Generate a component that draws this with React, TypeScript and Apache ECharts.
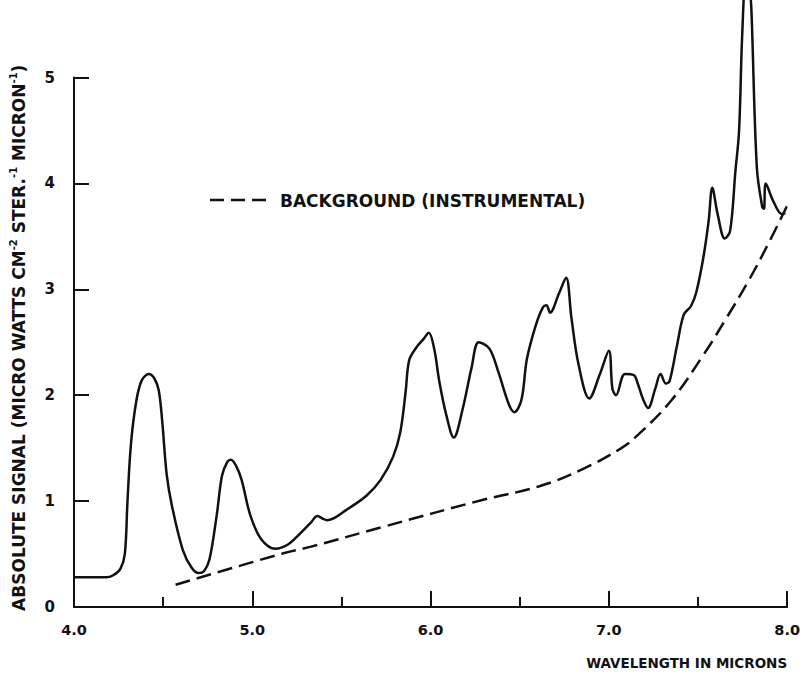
import React, { useEffect, useRef } from "react";
import * as echarts from "echarts";

// Measured spectrum (wavelength in microns, absolute signal)
const signalWavelength = [
  4.0, 4.1, 4.18, 4.22, 4.26, 4.285, 4.3, 4.32, 4.35, 4.38, 4.42, 4.45, 4.475, 4.495, 4.52, 4.55, 4.61, 4.66, 4.7,
  4.73, 4.76, 4.8, 4.83, 4.86, 4.88, 4.91, 4.94, 4.99, 5.05, 5.13, 5.2, 5.26, 5.33, 5.365, 5.4, 5.42,
  5.53, 5.64, 5.72, 5.79, 5.83, 5.86, 5.88, 5.92, 5.96, 5.99, 6.02, 6.05, 6.09, 6.13, 6.18, 6.23, 6.27,
  6.33, 6.38, 6.44, 6.47, 6.51, 6.54, 6.59, 6.63, 6.65, 6.67, 6.72, 6.76, 6.79, 6.83, 6.89, 6.95, 7.0,
  7.02, 7.04, 7.09, 7.14, 7.16, 7.19, 7.22, 7.26, 7.29, 7.32, 7.34, 7.38, 7.42, 7.46, 7.49, 7.53, 7.56,
  7.58, 7.61, 7.65, 7.68, 7.71, 7.73, 7.745, 7.76, 7.775, 7.79, 7.8, 7.83, 7.86, 7.87, 7.88, 7.92, 7.97,
  7.99,
];
const signalValues = [
  0.28, 0.28, 0.28, 0.3, 0.36, 0.5, 1.0, 1.55, 1.95, 2.14, 2.2, 2.16, 2.05, 1.75, 1.25, 0.95, 0.54, 0.37, 0.32,
  0.34, 0.45, 0.86, 1.24, 1.37, 1.39, 1.33, 1.2, 0.86, 0.64, 0.55, 0.59, 0.68, 0.8, 0.86, 0.83, 0.82,
  0.92, 1.05, 1.2, 1.42, 1.65, 2.03, 2.33, 2.45, 2.53, 2.59, 2.44, 2.12, 1.8, 1.6, 1.87, 2.26, 2.5,
  2.44, 2.22, 1.91, 1.84, 1.96, 2.34, 2.66, 2.83, 2.85, 2.78, 2.96, 3.11, 2.73, 2.29, 1.97, 2.2, 2.42,
  2.06, 2.0, 2.2, 2.19, 2.12, 1.97, 1.88, 2.06, 2.2, 2.11, 2.13, 2.45, 2.76, 2.84, 2.97, 3.3, 3.65,
  3.96, 3.71, 3.48, 3.55, 4.12, 4.49, 5.28, 5.9, 6.5, 5.9, 5.62, 4.15, 3.78, 3.76, 4.0, 3.84, 3.71,
  3.72,
];

// Instrumental background (dashed)
const backgroundWavelength = [4.57, 5.18, 5.33, 5.74, 6.29, 6.61, 6.85, 7.07, 7.16, 7.35, 7.53, 7.66, 7.79, 7.9, 8.0];
const backgroundValues = [0.21, 0.51, 0.57, 0.76, 1.01, 1.14, 1.3, 1.5, 1.62, 1.95, 2.38, 2.73, 3.1, 3.45, 3.79];

const xTicks = [4, 5, 6, 7, 8];
const yTicks = [0, 1, 2, 3, 4, 5];

const SERIES_SIGNAL = "ABSOLUTE SIGNAL";
const SERIES_BG = "BACKGROUND (INSTRUMENTAL)";
const FONT = "DejaVu Sans";
const INK = "#111111";

export default function App() {
  const ref = useRef<HTMLDivElement>(null);

  useEffect(() => {
    if (!ref.current) return;
    const chart = echarts.init(ref.current, null, { renderer: "svg" });
    const signal = signalWavelength.map((x, i) => [x, signalValues[i]]);
    const background = backgroundWavelength.map((x, i) => [x, backgroundValues[i]]);

    chart.setOption({
      animation: false,
      backgroundColor: "#ffffff",
      grid: { left: 71, right: 13, top: 77.5, bottom: 67, containLabel: false },
      graphic: [
        {
          type: "line",
          shape: { x1: 210, y1: 200, x2: 266, y2: 200 },
          style: { stroke: INK, lineWidth: 2.5, lineDash: [14, 7] },
        },
        {
          type: "text",
          x: 280,
          y: 201,
          style: {
            text: SERIES_BG,
            fontFamily: FONT,
            fontWeight: "bold",
            fontSize: 17,
            fill: INK,
            verticalAlign: "middle",
            align: "left",
          },
        },
      ],
      xAxis: {
        type: "value",
        min: xTicks[0],
        max: xTicks[xTicks.length - 1],
        interval: 1,
        name: "WAVELENGTH IN MICRONS",
        nameLocation: "end",
        nameGap: 0,
        nameTextStyle: {
          fontFamily: FONT,
          fontWeight: "bold",
          fontSize: 13.5,
          color: INK,
          align: "right",
          verticalAlign: "top",
          padding: [49, 0, 0, 0],
        },
        axisLine: { show: true, lineStyle: { color: INK, width: 2 } },
        axisTick: { show: true, inside: true, length: 16, lineStyle: { color: INK, width: 2 } },
        minorTick: { show: true, splitNumber: 2, length: 10, lineStyle: { color: INK, width: 2 } },
        axisLabel: {
          margin: 15,
          fontFamily: FONT,
          fontWeight: "bold",
          fontSize: 14.5,
          color: INK,
          formatter: (v: number) => v.toFixed(1),
        },
        splitLine: { show: false },
      },
      yAxis: {
        type: "value",
        min: yTicks[0],
        max: yTicks[yTicks.length - 1],
        interval: 1,
        name:
          "{a|ABSOLUTE SIGNAL (MICRO WATTS CM}{s|-2}{a| STER.}{s|-1}{a| MICRON}{s|-1}{a|)}",
        nameLocation: "middle",
        nameRotate: 90,
        nameGap: 44,
        nameTextStyle: {
          padding: [0, 0, 0, 9],
          rich: {
            a: { fontFamily: FONT, fontWeight: "bold", fontSize: 17, color: INK, lineHeight: 22 },
            s: {
              fontFamily: FONT,
              fontWeight: "bold",
              fontSize: 10,
              color: INK,
              lineHeight: 22,
              verticalAlign: "top",
            },
          },
        },
        axisLine: { show: true, lineStyle: { color: INK, width: 2 } },
        axisTick: { show: true, inside: true, length: 15, lineStyle: { color: INK, width: 2 } },
        axisLabel: { margin: 19, fontFamily: FONT, fontWeight: "bold", fontSize: 15, color: INK },
        splitLine: { show: false },
      },
      series: [
        {
          name: SERIES_SIGNAL,
          type: "line",
          data: signal,
          showSymbol: false,
          symbol: "none",
          smooth: 0.35,
          clip: false,
          lineStyle: { color: INK, width: 2.5 },
          itemStyle: { color: INK },
        },
        {
          name: SERIES_BG,
          type: "line",
          data: background,
          showSymbol: false,
          symbol: "none",
          smooth: 0.4,
          clip: false,
          lineStyle: { color: INK, width: 2.5, type: [15, 7] },
          itemStyle: { color: INK },
        },
      ],
    });
    return () => chart.dispose();
  }, []);

  return (
    <div
      ref={ref}
      style={{ position: "fixed", left: 0, top: 0, width: 803, height: 674, background: "#fff" }}
    />
  );
}
